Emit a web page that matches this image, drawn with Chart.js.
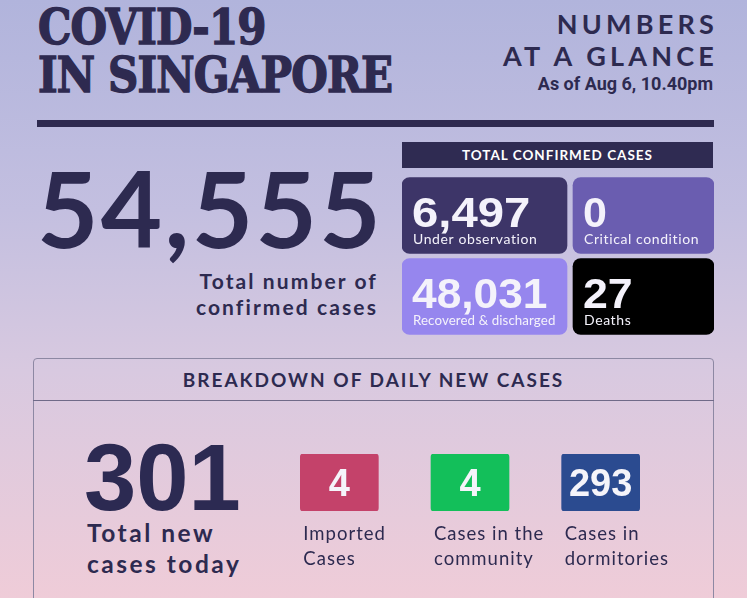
<!DOCTYPE html>
<html lang="en">
  <head>
    <title>COVID-19 in Singapore</title>
    <style>
      html, body { margin: 0; padding: 0; }
      body {
        width: 747px; height: 598px; overflow: hidden; position: relative;
        background: linear-gradient(180deg, #b1b4dc 0%, #c3bfe0 35%, #d8c9e0 62%, #efccd8 100%);
        font-family: Lato, "Open Sans", sans-serif; color: #2d2a50;
      }
      .abs { position: absolute; white-space: nowrap; }
      #title {
        left: 38px; top: 3px; font-family: "DejaVu Serif", serif; font-weight: bold;
        font-size: 48px; line-height: 48px; color: #2e2a50; letter-spacing: -1px;
        -webkit-text-stroke: 1.4px #2e2a50; transform: scaleX(0.875); transform-origin: left top;
      }
      #glance {
        right: 33px; top: 8px; text-align: right; font-weight: bold; font-size: 27px;
        line-height: 32px; letter-spacing: 4.2px; margin-right: -4px;
      }
      #asof {
        right: 34px; top: 74px; font-family: Roboto, sans-serif;
        font-weight: bold; font-size: 18px; line-height: 20px;
      }
      #rule { left: 37px; top: 120px; width: 677px; height: 7px; background: #2e2a50; }
      #total {
        left: 37px; top: 142px; font-weight: bold; font-size: 106px; line-height: 130px;
        letter-spacing: 2.3px;
      }
      #totalLbl {
        right: 371px; top: 268px; text-align: right; font-weight: bold; font-size: 21px;
        line-height: 26px; letter-spacing: 2.1px; margin-right: -2px;
      }
      #tccHead {
        left: 402px; top: 142px; width: 311px; height: 26px; background: #2f2b52;
        color: #fff; font-weight: bold; font-size: 13.5px; line-height: 27px;
        text-align: center; letter-spacing: 1px;
      }
      #statusChart { position: absolute; left: 402px; top: 175px; }
      #box {
        left: 33px; top: 358px; width: 679px; height: 260px; border: 1px solid #8d88a3;
        border-radius: 4px;
      }
      #boxHead {
        left: 33px; top: 358px; width: 681px; height: 42px; border-bottom: 1px solid #6f6a88;
        text-align: center; font-weight: bold; font-size: 19px; line-height: 44px;
        letter-spacing: 2px;
      }
      #daily {
        left: 84px; top: 423px; font-family: "Liberation Sans", Arial, sans-serif;
        font-size: 94px; line-height: 110px; color: #2c2a52; font-weight: bold;
      }
      #dailyLbl {
        left: 87px; top: 517px; font-weight: bold; font-size: 24.5px; line-height: 31px;
        letter-spacing: 2.5px;
      }
      #dailyChart { position: absolute; left: 274px; top: 454px; }
    </style>
  </head>
  <body>
    <div class="abs" id="title">COVID-19<br>IN SINGAPORE</div>
    <div class="abs" id="glance">NUMBERS<br>AT A GLANCE</div>
    <div class="abs" id="asof">As of Aug 6, 10.40pm</div>
    <div class="abs" id="rule"></div>

    <div class="abs" id="total"></div>
    <div class="abs" id="totalLbl">Total number of<br>confirmed cases</div>
    <div class="abs" id="tccHead">TOTAL CONFIRMED CASES</div>
    <canvas id="statusChart" width="312" height="162"></canvas>

    <div class="abs" id="box"></div>
    <div class="abs" id="boxHead">BREAKDOWN OF DAILY NEW CASES</div>
    <div class="abs" id="daily"></div>
    <div class="abs" id="dailyLbl">Total new<br>cases today</div>
    <canvas id="dailyChart" width="430" height="125"></canvas>

    <script src="https://cdn.jsdelivr.net/npm/chart.js"></script>

    <script>
      var totalConfirmed = 54555;
      var statusLabels = ["Under observation", "Critical condition", "Recovered & discharged", "Deaths"];
      var statusValues = [6497, 0, 48031, 27];
      var statusColors = ["#3d3568", "#6a5db0", "#9686ee", "#000000"];

      var dailyTotal = 301;
      var dailyLabels = [["Imported", "Cases"], ["Cases in the", "community"], ["Cases in", "dormitories"]];
      var dailyValues = [4, 4, 293];
      var dailyColors = ["#c4426a", "#13bf5a", "#2b4b90"];

      var fmt = (v) => v.toLocaleString("en-US");
      document.getElementById("total").textContent = fmt(totalConfirmed);
      document.getElementById("daily").textContent = fmt(dailyTotal);

      // writes the number + caption inside each tile of the 2x2 grid
      var numStretch = [1.1, 1, 1.03, 1.04];
      var statusText = {
        id: "statusText",
        afterDatasetsDraw(chart) {
          var ctx = chart.ctx;
          chart.data.datasets.forEach((ds, di) => {
            chart.getDatasetMeta(di).data.forEach((bar, i) => {
              var k = ds.idx[i];
              var left = Math.min(bar.x, bar.base);
              var top = bar.y - bar.height / 2;
              ctx.save();
              ctx.fillStyle = "#f4f2fb";
              ctx.font = "bold 43px 'Liberation Sans', Arial, sans-serif";
              ctx.translate(left + 10, top + 49);
              ctx.scale(numStretch[k], 1);
              ctx.fillText(fmt(statusValues[k]), 0, 0);
              ctx.restore();
              ctx.save();
              ctx.fillStyle = "#f4f2fb";
              ctx.font = (k == 2 ? "13.3px" : "14px") + " Lato, sans-serif";
              ctx.letterSpacing = k == 2 ? "0.1px" : "0.6px";
              ctx.fillText(statusLabels[k], left + 11, top + 66);
              ctx.restore();
            });
          });
        },
      };

      // grid of tiles: two rows, left column wider than right
      new Chart(document.getElementById("statusChart"), {
        type: "bar",
        data: {
          labels: ["row1", "row2"],
          datasets: [
            { data: [[0, 165], [0, 165]], idx: [0, 2], backgroundColor: [statusColors[0], statusColors[2]] },
            { data: [[171, 312], [171, 312]], idx: [1, 3], backgroundColor: [statusColors[1], statusColors[3]] },
          ],
        },
        options: {
          indexAxis: "y",
          responsive: false,
          animation: false,
          layout: { padding: 0 },
          datasets: { bar: { grouped: false, categoryPercentage: 1, barThickness: 76, borderRadius: 8, borderSkipped: false } },
          scales: {
            x: { display: false, min: 0, max: 312 },
            y: { display: false },
          },
          plugins: { legend: { display: false }, tooltip: { enabled: false } },
        },
        plugins: [statusText],
      });

      var dailyText = {
        id: "dailyText",
        afterDatasetsDraw(chart) {
          var ctx = chart.ctx;
          chart.getDatasetMeta(0).data.forEach((bar, i) => {
            var left = bar.x - bar.width / 2;
            ctx.save();
            ctx.fillStyle = "#f5f4fa";
            ctx.font = "bold 38px 'Liberation Sans', Arial, sans-serif";
            ctx.textAlign = "center";
            ctx.fillText(String(dailyValues[i]), bar.x, bar.base - 15);
            ctx.restore();
            ctx.save();
            ctx.fillStyle = "#2d2a50";
            ctx.font = "18.5px Lato, sans-serif";
            ctx.letterSpacing = "1px";
            dailyLabels[i].forEach((line, j) => ctx.fillText(line, left + 3, bar.base + 29 + j * 25));
            ctx.restore();
          });
        },
      };

      // one equal-sized tile per daily category
      new Chart(document.getElementById("dailyChart"), {
        type: "bar",
        data: {
          labels: dailyLabels.map((l) => l.join(" ")),
          datasets: [{ data: dailyValues.map(() => 1), backgroundColor: dailyColors, borderRadius: 3, borderSkipped: false }],
        },
        options: {
          responsive: false,
          animation: false,
          layout: { padding: { bottom: 68, right: 38 } },
          datasets: { bar: { categoryPercentage: 1, barThickness: 78 } },
          scales: {
            x: { display: false },
            y: { display: false, min: 0, max: 1 },
          },
          plugins: { legend: { display: false }, tooltip: { enabled: false } },
        },
        plugins: [dailyText],
      });
    </script>
  </body>
</html>
